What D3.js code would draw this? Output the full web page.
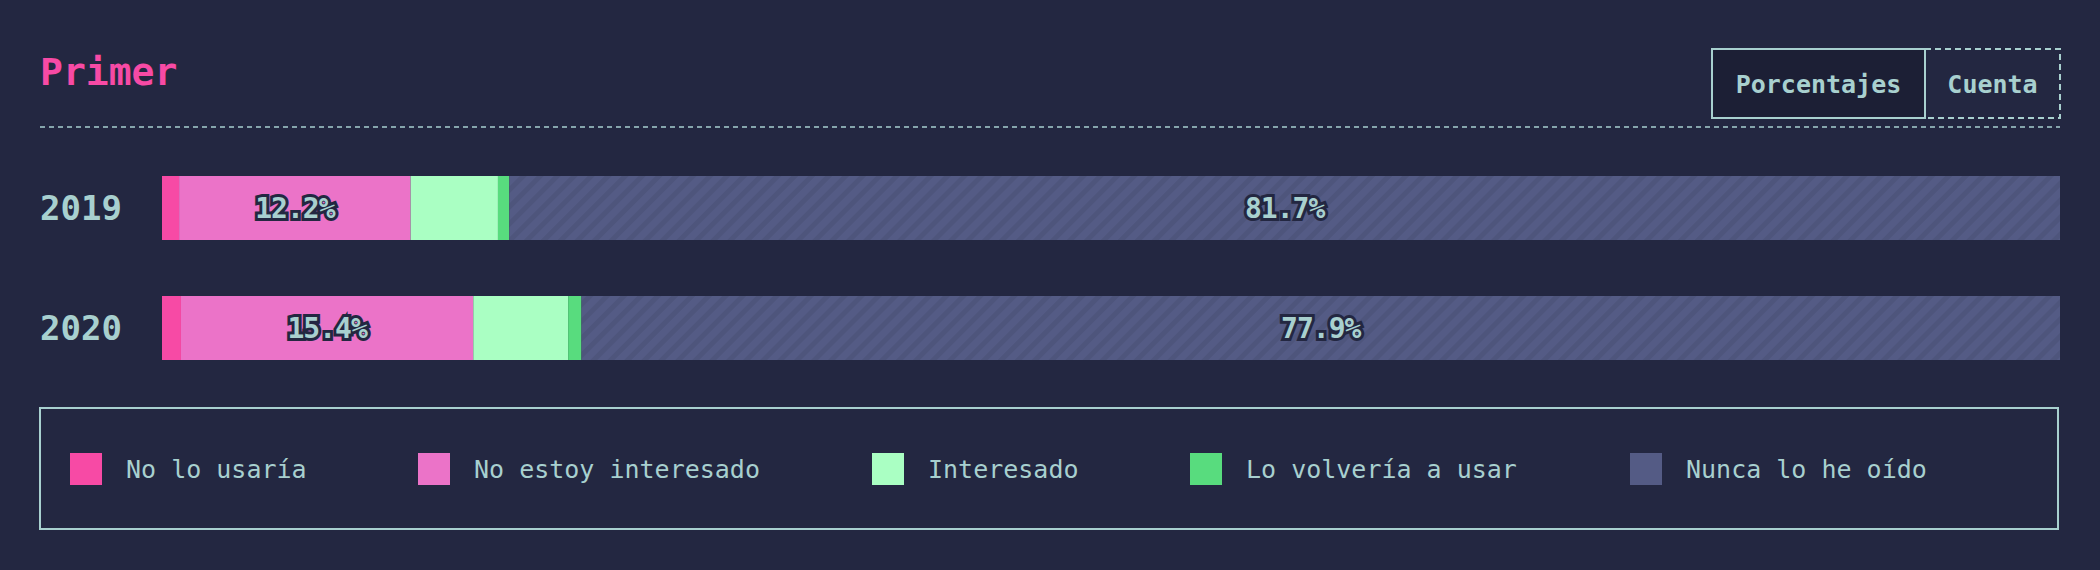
<!DOCTYPE html>
<html><head><meta charset="utf-8">
<script src="https://cdn.jsdelivr.net/npm/d3@7"></script>
<style>body{margin:0;background:#232741}</style>
</head><body>
<svg id="chart" width="2100" height="570"></svg>
<script>
var years = ["2019", "2020"]
var categories = ["No lo usaría", "No estoy interesado", "Interesado", "Lo volvería a usar", "Nunca lo he oído"]
var colors = ["#f74aa5", "#eb73c8", "#aaffc3", "#58dc7e", "#545b85"]
var values2019 = [0.9, 12.2, 4.6, 0.6, 81.7]
var values2020 = [1.0, 15.4, 5.0, 0.7, 77.9]
var buttons = ["Porcentajes", "Cuenta"]

var txt = "#a8d0cf"
var font = "'DejaVu Sans Mono', monospace"
var svg = d3.select("#chart")

// hatch pattern for the last segment
var pat = svg.append("defs").append("pattern").attr("id", "hatch")
  .attr("width", 12).attr("height", 12).attr("patternUnits", "userSpaceOnUse")
  .attr("patternTransform", "rotate(45)")
pat.append("rect").attr("width", 12).attr("height", 12).attr("fill", "#545b85")
pat.append("rect").attr("width", 5).attr("height", 12).attr("fill", "#4e557c")

svg.append("text").attr("x", 40).attr("y", 85).attr("fill", "#f74aa5")
  .attr("font-family", font).attr("font-weight", "bold").attr("font-size", 38).text("Primer")

svg.append("line").attr("x1", 40).attr("x2", 2060).attr("y1", 127).attr("y2", 127)
  .attr("stroke", txt).attr("stroke-width", 1.5).attr("stroke-dasharray", "5,4")

// toggle buttons
var bx = [1712, 1925, 2060]
buttons.forEach((b, i) => {
  svg.append("rect").attr("x", bx[i]).attr("y", 49).attr("width", bx[i + 1] - bx[i]).attr("height", 69)
    .attr("fill", i == 0 ? "#1c1f35" : "none").attr("stroke", txt).attr("stroke-width", 2)
    .attr("stroke-dasharray", i == 0 ? null : "6,4")
  svg.append("text").attr("x", (bx[i] + bx[i + 1]) / 2).attr("y", 93).attr("text-anchor", "middle")
    .attr("fill", txt).attr("font-family", font).attr("font-weight", "bold").attr("font-size", 25).text(b)
})

var x = d3.scaleLinear().domain([0, 100]).range([162, 2060])
var y = d3.scaleBand().domain(years).range([176, 360]).paddingInner(0.4667).paddingOuter(0)

var rows = [values2019, values2020].map((vals, r) => {
  var acc = 0
  return vals.map((v, i) => { var d = {year: years[r], i: i, v: v, x0: acc, x1: acc + v}; acc += v; return d })
})

rows.forEach(row => {
  var g = svg.append("g")
  g.selectAll("rect").data(row).enter().append("rect")
    .attr("x", d => x(d.x0)).attr("width", d => x(d.x1) - x(d.x0))
    .attr("y", d => y(d.year)).attr("height", y.bandwidth())
    .attr("fill", d => d.i == 4 ? "url(#hatch)" : colors[d.i])
  g.selectAll("text").data(row.filter(d => d.v > 10)).enter().append("text")
    .attr("x", d => x((d.x0 + d.x1) / 2)).attr("y", d => y(d.year) + y.bandwidth() / 2 + 10)
    .attr("text-anchor", "middle").attr("font-family", font).attr("font-weight", "bold").attr("font-size", 28)
    .attr("fill", txt).attr("stroke", "#232741").attr("stroke-width", 6).attr("paint-order", "stroke")
    .attr("letter-spacing", -1).text(d => d.v.toFixed(1) + "%")
})

svg.selectAll(".year").data(years).enter().append("text")
  .attr("x", 40).attr("y", d => y(d) + y.bandwidth() / 2 + 12)
  .attr("fill", txt).attr("font-family", font).attr("font-weight", "bold").attr("font-size", 34).text(d => d)

// legend
svg.append("rect").attr("x", 40).attr("y", 408).attr("width", 2018).attr("height", 121)
  .attr("fill", "none").attr("stroke", txt).attr("stroke-width", 2)
var lx = [70, 418, 872, 1190, 1630]
categories.forEach((c, i) => {
  svg.append("rect").attr("x", lx[i]).attr("y", 453).attr("width", 32).attr("height", 32).attr("fill", colors[i])
  svg.append("text").attr("x", lx[i] + 56).attr("y", 478).attr("fill", txt)
    .attr("font-family", font).attr("font-size", 25).text(c)
})
</script>
</body></html>
